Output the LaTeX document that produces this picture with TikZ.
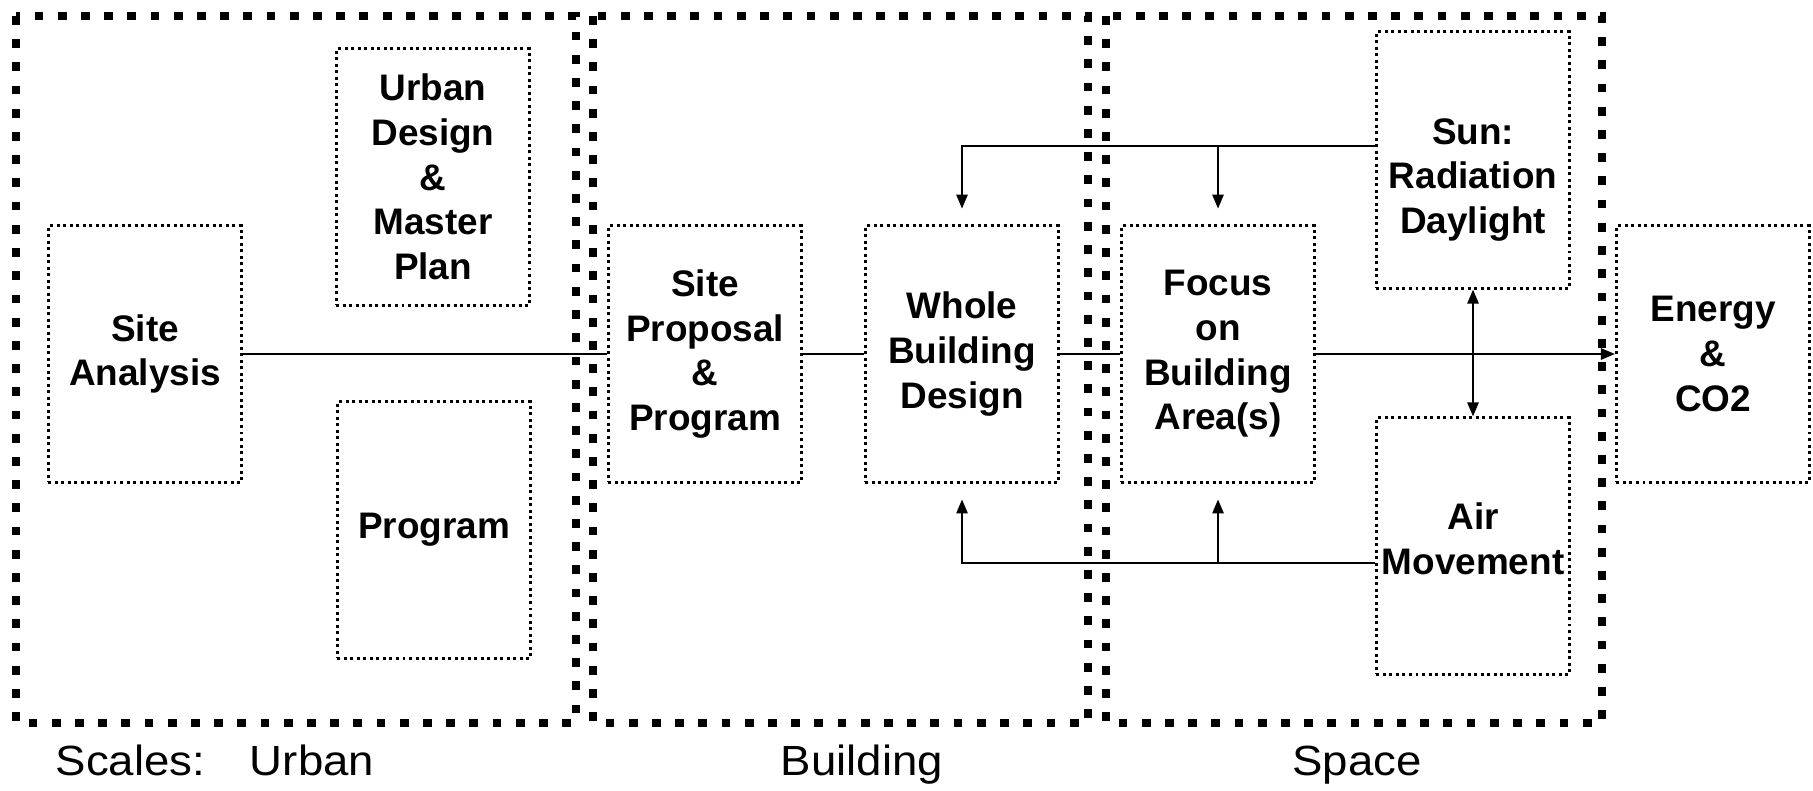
\documentclass[tikz,border=0pt]{standalone}
\usepackage{fontspec}
\setmainfont{Liberation Sans}
\newfontfamily\scalesfont{Liberation Sans}[FakeStretch=1.08]
\usetikzlibrary{arrows.meta}
\usetikzlibrary{calc}

\begin{document}
\begin{tikzpicture}[x=0.01cm,y=-0.01cm,
  >={Triangle[length=4pt,width=3.2pt]},
  scalebox/.style={line width=2.5pt,dash pattern=on 2.5pt off 4.1pt},
  topictext/.style={align=center,inner sep=0pt,font=\fontsize{10.5}{12.7}\selectfont\bfseries},
  topic/.style={topictext,draw,line width=0.85pt,dash pattern=on 0.85pt off 1pt,
    minimum width=1.93cm,minimum height=2.56cm},
  conn/.style={line width=0.6pt},
  scalelabel/.style={inner sep=0pt,font=\scalesfont\fontsize{12}{14}\selectfont}]
  \useasboundingbox (0,0) rectangle (1813,790);
  % the three scales
  \draw[scalebox] (16,16) rectangle (576,723);
  \draw[scalebox] (593,16) rectangle (1088,723);
  \draw[scalebox] (1106,16) rectangle (1602,723);
  % urban
  \node[topic] (site) at (145,354) {Site\\Analysis};
  \node[topic] (urbandesign) at (433,177) {Urban\\Design\\\&\\Master\\Plan};
  \node[topic] (program) at (434,530) {Program};
  % building
  \node[topic] (proposal) at (705,354) {Site\\Proposal\\\&\\Program};
  \node[topic] (whole) at (962,354) {Whole\\Building\\Design};
  % space
  \node[topic] (focus) at (1218,354) {Focus\\on\\Building\\Area(s)};
  \node[topic] (sun) at (1473,160) {};
  \node[topictext] (suntext) at ($(sun)+(0,20)$) {Sun:\\Radiation\\Daylight};
  \node[topic] (air) at (1473,546) {};
  \node[topictext] (airtext) at ($(air)+(0,-7)$) {Air\\Movement};
  \node[topic] (energy) at (1713,354) {Energy\\\&\\CO2};

  % connectors
  \coordinate (topy) at (0,146);
  \coordinate (boty) at (0,563);
  \draw[conn] (site) -- (proposal);
  \draw[conn] (proposal) -- (whole);
  \draw[conn] (whole) -- (focus);
  \draw[conn,->] (focus) -- (energy);
  \draw[conn,->,shorten >=4.5pt] (sun.west |- topy) -| (whole.north);
  \draw[conn,->,shorten >=4.5pt] (focus.north |- topy) -- (focus.north);
  \draw[conn,->,shorten >=4.5pt] (air.west |- boty) -| (whole.south);
  \draw[conn,->,shorten >=4.5pt] (focus.south |- boty) -- (focus.south);
  \draw[conn,<->] (sun) -- (air);

  % labels of the scales
  \node[scalelabel,anchor=base west] (scales) at (55,775) {Scales:};
  \node[scalelabel,anchor=base] (urbanlbl) at (312,775) {Urban};
  \node[scalelabel,anchor=base] (buildinglbl) at (862,775) {Building};
  \node[scalelabel,anchor=base] (spacelbl) at (1357,775) {Space};
\end{tikzpicture}
\end{document}
